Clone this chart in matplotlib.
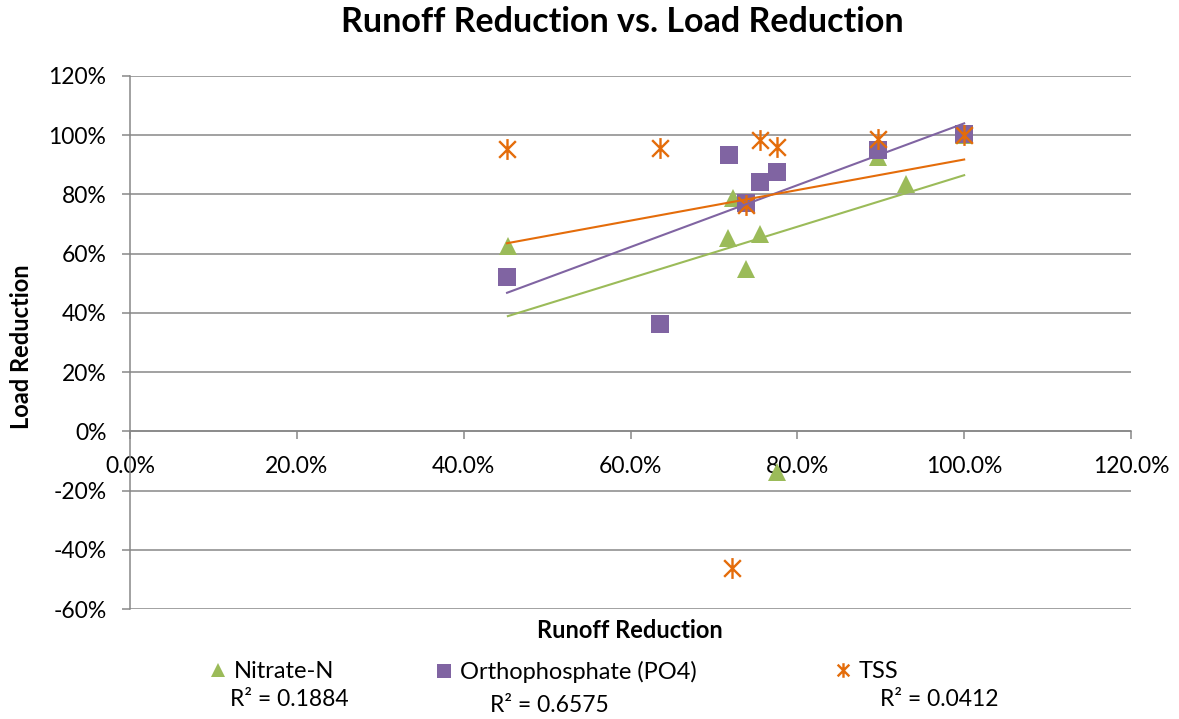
import numpy as np
import matplotlib
matplotlib.use("Agg")
import matplotlib.pyplot as plt
from matplotlib.path import Path
from matplotlib.ticker import PercentFormatter

plt.rcParams['font.family'] = ['Lato', 'DejaVu Sans']
plt.rcParams['axes.unicode_minus'] = False

# data (fractions)
nitrate_x = [0.453, 0.717, 0.723, 0.739, 0.755, 0.776, 0.897, 0.930, 1.000]
nitrate_y = [0.625, 0.652, 0.787, 0.547, 0.666, -0.139, 0.926, 0.834, 1.000]

ortho_x = [0.452, 0.635, 0.718, 0.739, 0.755, 0.776, 0.897, 1.000]
ortho_y = [0.520, 0.362, 0.933, 0.770, 0.841, 0.875, 0.949, 1.003]

tss_x = [0.452, 0.635, 0.722, 0.739, 0.755, 0.776, 0.897, 1.000]
tss_y = [0.953, 0.956, -0.463, 0.764, 0.983, 0.960, 0.986, 1.000]

# linear trendlines (slope, intercept) and R² labels as shown
trend_nitrate = (0.870, -0.005)
trend_ortho = (1.044, -0.004)
trend_tss = (0.516, 0.402)
r2_labels = ["R² = 0.1884", "R² = 0.6575", "R² = 0.0412"]

green = '#9BBB59'
purple = '#8064A2'
orange = '#E46C0A'
grid_c = '#878787'

# Excel-style star marker: vertical bar plus an X
star = Path([(0, -1), (0, 1), (-0.8, -0.8), (0.8, 0.8), (-0.8, 0.8), (0.8, -0.8)],
            [Path.MOVETO, Path.LINETO, Path.MOVETO, Path.LINETO, Path.MOVETO, Path.LINETO])

fig = plt.figure(figsize=(11.79, 7.19), dpi=100)
ax = fig.add_axes([130 / 1179, 1 - 609 / 719, (1131 - 130) / 1179, (609 - 76) / 719])

h1, = ax.plot(nitrate_x, nitrate_y, linestyle='none', marker='^', ms=13.5,
              color=green, markeredgewidth=0, zorder=3, label='Nitrate-N')
h2, = ax.plot(ortho_x, ortho_y, linestyle='none', marker='s', ms=13.5,
              color=purple, markeredgewidth=0, zorder=3, label='Orthophosphate (PO4)')
h3, = ax.plot(tss_x, tss_y, linestyle='none', marker=star, ms=15,
              color=orange, markeredgewidth=1.7, fillstyle='none', zorder=3, label='TSS')

for xs, (m, b), c in [(nitrate_x, trend_nitrate, green),
                      (ortho_x, trend_ortho, purple),
                      (tss_x, trend_tss, orange)]:
    xx = np.array([min(xs), max(xs)])
    ax.plot(xx, m * xx + b, color=c, lw=1.5, zorder=4)

ax.set_xlim(0, 1.2)
ax.set_ylim(-0.6, 1.2)
ax.set_xticks(np.arange(0, 1.21, 0.2))
ax.set_yticks(np.arange(-0.6, 1.21, 0.2))
ax.xaxis.set_major_formatter(PercentFormatter(1.0, decimals=1))
ax.yaxis.set_major_formatter(PercentFormatter(1.0, decimals=0))

ax.grid(axis='y', color=grid_c, lw=1.1, zorder=0)
ax.set_axisbelow(True)
for s in ['top', 'right']:
    ax.spines[s].set_visible(False)
ax.spines['bottom'].set_position(('data', 0))
ax.spines['bottom'].set_color(grid_c)
ax.spines['left'].set_color(grid_c)
ax.spines['bottom'].set_linewidth(1.1)
ax.spines['left'].set_linewidth(1.1)
ax.tick_params(axis='both', colors=grid_c, labelcolor='black', labelsize=16.5, length=6, width=1.1)
ax.tick_params(axis='x', pad=12)
ax.tick_params(axis='y', pad=11)

fig.text(622 / 1179, 1 - 22 / 719, 'Runoff Reduction vs. Load Reduction',
         ha='center', va='center', fontsize=24.5, fontweight='bold')
fig.text(630 / 1179, 1 - 631 / 719, 'Runoff Reduction', ha='center', va='center',
         fontsize=17, fontweight='bold')
fig.text(22 / 1179, 1 - 347 / 719, 'Load Reduction', ha='center', va='center',
         fontsize=17, fontweight='bold', rotation=90)

# one legend entry per series, placed like the Excel legend
for h, xpos in zip([h1, h2, h3], [210, 436, 835]):
    fig.legend(handles=[h], loc='center left', bbox_to_anchor=(xpos / 1179, 1 - 672 / 719),
               frameon=False, fontsize=17, markerscale=0.7, handlelength=0.7,
               handletextpad=0.3, borderpad=0, borderaxespad=0)

for txt, xpos, ypos in zip(r2_labels, [230, 490, 880], [700, 705, 700]):
    fig.text(xpos / 1179, 1 - ypos / 719, txt, ha='left', va='center', fontsize=16.5)

fig.savefig('out.png', dpi=100)
